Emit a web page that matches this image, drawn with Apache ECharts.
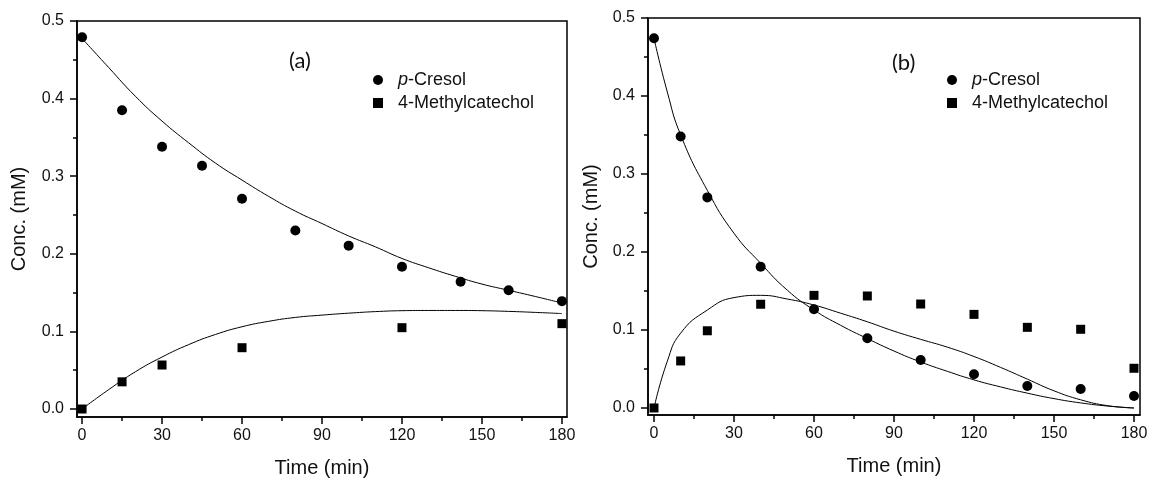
<!DOCTYPE html>
<html>
<head>
<meta charset="utf-8">
<script src="https://cdn.jsdelivr.net/npm/echarts@6/dist/echarts.min.js"></script>
<style>html,body{margin:0;padding:0;background:#fff}#c{width:1152px;height:483px}</style>
</head>
<body>
<div id="c"></div>
<script>
// ---------- data ----------
const xTicks = [0, 30, 60, 90, 120, 150, 180];
const xMinorTicks = [15, 45, 75, 105, 135, 165];
const yTicks = [0, 0.1, 0.2, 0.3, 0.4, 0.5];
const yMinorTicks = [0.05, 0.15, 0.25, 0.35, 0.45];

// panel (a)
const timeA_pc = [0, 15, 30, 45, 60, 80, 100, 120, 142, 160, 180];
const pcA = [0.479, 0.385, 0.338, 0.3135, 0.271, 0.230, 0.2105, 0.1834, 0.164, 0.153, 0.139];
const timeA_mc = [0, 15, 30, 60, 120, 180];
const mcA = [0.0, 0.035, 0.0567, 0.079, 0.1048, 0.110];
const fitTimeA = [0, 10, 20, 30, 40, 50, 60, 70, 80, 90, 100, 110, 120, 130, 140, 150, 160, 170, 180];
const fitPcA = [0.4775, 0.44, 0.403, 0.371, 0.343, 0.317, 0.295, 0.274, 0.255, 0.239, 0.223, 0.209, 0.194, 0.182, 0.171, 0.161, 0.153, 0.145, 0.1366];
const fitMcA = [0, 0.025, 0.048, 0.067, 0.083, 0.096, 0.106, 0.113, 0.118, 0.121, 0.1235, 0.1255, 0.1267, 0.127, 0.127, 0.1267, 0.1258, 0.1245, 0.123];

// panel (b)
const timeB = [0, 10, 20, 40, 60, 80, 100, 120, 140, 160, 180];
const pcB = [0.474, 0.348, 0.270, 0.181, 0.1265, 0.0893, 0.0615, 0.0432, 0.0282, 0.0244, 0.0154];
const mcB = [0.0, 0.0603, 0.099, 0.133, 0.1444, 0.1436, 0.1333, 0.120, 0.1034, 0.1009, 0.0509];
const fitTimeB = [0, 5, 10, 20, 30, 40, 50, 60, 70, 80, 90, 100, 110, 120, 130, 140, 150, 160, 170, 180];
const fitPcB = [0.474, 0.405, 0.35, 0.279, 0.224, 0.1855, 0.151, 0.1256, 0.106, 0.089, 0.073, 0.059, 0.047, 0.036, 0.027, 0.019, 0.012, 0.0065, 0.0025, 0];
const fitMcB = [0, 0.06, 0.096, 0.1256, 0.1415, 0.1444, 0.1397, 0.132, 0.1215, 0.1105, 0.0985, 0.088, 0.078, 0.066, 0.052, 0.037, 0.022, 0.0105, 0.003, 0];

const panelLabels = ['(a)', '(b)'];
const seriesNames = ['p-Cresol', '4-Methylcatechol'];
const xName = 'Time (min)';
const yName = 'Conc. (mM)';

// ---------- chart ----------
const zip = (xs, ys) => xs.map((x, i) => [x, ys[i]]);
const FONT = 'Liberation Sans';

function mainX(gi, min, max) {
  return {
    type: 'value', gridIndex: gi, min: min, max: max,
    name: xName, nameLocation: 'middle', nameGap: 41,
    nameTextStyle: { fontFamily: FONT, fontSize: 20, color: '#111' },
    axisLine: { show: true, onZero: false, lineStyle: { color: '#000', width: 1.5 } },
    axisTick: { show: true, length: 7, customValues: xTicks, lineStyle: { color: '#000', width: 1.5 } },
    axisLabel: { customValues: xTicks, margin: 11, fontFamily: FONT, fontSize: 16, color: '#111' },
    splitLine: { show: false }
  };
}
function minorX(gi, min, max) {
  return {
    type: 'value', gridIndex: gi, min: min, max: max, position: 'bottom',
    axisLine: { show: false, onZero: false },
    axisTick: { show: true, length: 4, customValues: xMinorTicks, lineStyle: { color: '#000', width: 1.5 } },
    axisLabel: { show: false }, splitLine: { show: false }
  };
}
function mainY(gi, min, max, gap) {
  return {
    type: 'value', gridIndex: gi, min: min, max: max,
    name: yName, nameLocation: 'middle', nameGap: gap,
    nameTextStyle: { fontFamily: FONT, fontSize: 20, color: '#111' },
    axisLine: { show: true, onZero: false, lineStyle: { color: '#000', width: 1.5 } },
    axisTick: { show: true, length: 7, customValues: yTicks, lineStyle: { color: '#000', width: 1.5 } },
    axisLabel: { customValues: yTicks, margin: 13, fontFamily: FONT, fontSize: 16, color: '#111',
      formatter: v => v.toFixed(1) },
    splitLine: { show: false }
  };
}
function minorY(gi, min, max) {
  return {
    type: 'value', gridIndex: gi, min: min, max: max, position: 'left',
    axisLine: { show: false, onZero: false },
    axisTick: { show: true, length: 4, customValues: yMinorTicks, lineStyle: { color: '#000', width: 1.5 } },
    axisLabel: { show: false }, splitLine: { show: false }
  };
}

const fitLine = (xi, yi, data) => ({
  type: 'line', xAxisIndex: xi, yAxisIndex: yi, data: data, showSymbol: false, symbol: 'none',
  smooth: 0.5, lineStyle: { color: '#000', width: 1 }, z: 2, silent: true, legendHoverLink: false
});
const pts = (name, xi, yi, data, sym, size) => ({
  type: 'scatter', name: name, xAxisIndex: xi, yAxisIndex: yi, data: data,
  symbol: sym, symbolSize: size, itemStyle: { color: '#000', opacity: 1 }, z: 3
});

const legendBase = (left, gi) => ({
  orient: 'vertical', left: left, top: 66, itemWidth: 10, itemHeight: 10, itemGap: 5,
  data: gi === 0 ? ['p-Cresol', '4-Methylcatechol'] : ['p-Cresol ', '4-Methylcatechol '],
  formatter: n => n.trim() === 'p-Cresol' ? '{pi|p}{n|-Cresol}' : '{pn|' + n.trim() + '}',
  textStyle: { fontFamily: FONT, fontSize: 18, color: '#111',
    rich: {
      pi: { fontFamily: FONT, fontSize: 18, fontStyle: 'italic', color: '#111', padding: [0, 0, 0, 10] },
      n: { fontFamily: FONT, fontSize: 18, color: '#111' },
      pn: { fontFamily: FONT, fontSize: 18, color: '#111', padding: [0, 0, 0, 10] }
    } },
  selectedMode: false
});

const chart = echarts.init(document.getElementById('c'), null, { renderer: 'canvas' });
chart.setOption({
  animation: false,
  backgroundColor: '#fff',
  title: [
    { text: panelLabels[0], left: 284, top: 45,
      textStyle: { fontFamily: 'Lato', fontSize: 22, fontWeight: 'normal', color: '#111' } },
    { text: panelLabels[1], left: 887, top: 47,
      textStyle: { fontFamily: 'Lato', fontSize: 22, fontWeight: 'normal', color: '#111' } }
  ],
  legend: [legendBase(368, 0), legendBase(942, 1)],
  grid: [
    { left: 77, top: 21, width: 490, height: 396, show: true, borderColor: '#000', borderWidth: 1.5, backgroundColor: 'transparent' },
    { left: 648, top: 18, width: 492, height: 397, show: true, borderColor: '#000', borderWidth: 1.5, backgroundColor: 'transparent' }
  ],
  xAxis: [mainX(0, -1.9, 181.9), minorX(0, -1.9, 181.9), mainX(1, -2.25, 182.25), minorX(1, -2.25, 182.25)],
  yAxis: [mainY(0, -0.0103, 0.5, 48), minorY(0, -0.0103, 0.5), mainY(1, -0.009, 0.5, 47), minorY(1, -0.009, 0.5)],
  series: [
    fitLine(0, 0, zip(fitTimeA, fitPcA)),
    fitLine(0, 0, zip(fitTimeA, fitMcA)),
    pts(seriesNames[0], 0, 0, zip(timeA_pc, pcA), 'circle', 10),
    pts(seriesNames[1], 0, 0, zip(timeA_mc, mcA), 'rect', 9),
    fitLine(2, 2, zip(fitTimeB, fitPcB)),
    fitLine(2, 2, zip(fitTimeB, fitMcB)),
    pts(seriesNames[0] + ' ', 2, 2, zip(timeB, pcB), 'circle', 10),
    pts(seriesNames[1] + ' ', 2, 2, zip(timeB, mcB), 'rect', 9)
  ]
});
</script>
</body>
</html>
